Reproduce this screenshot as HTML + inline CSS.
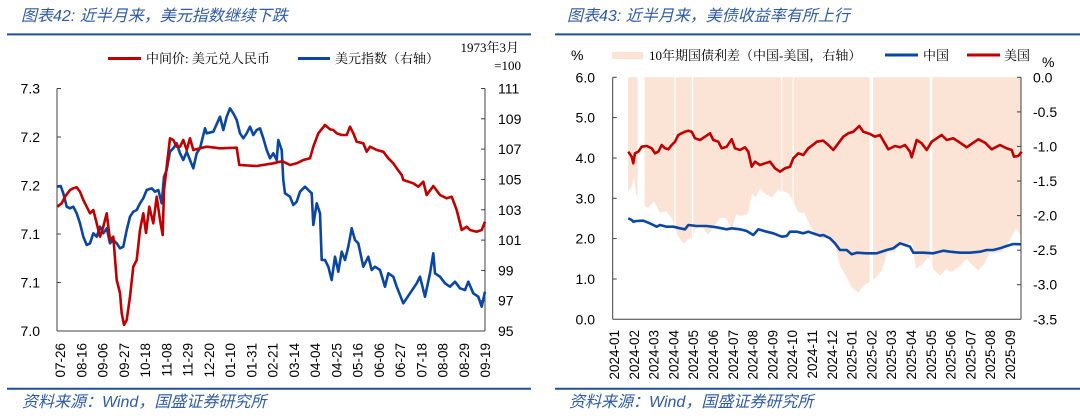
<!DOCTYPE html>
<html><head><meta charset="utf-8">
<style>
html,body{margin:0;padding:0;background:#fff;}
svg{display:block;}
.t{font-family:"Liberation Sans","Noto Sans CJK SC",sans-serif;font-style:italic;font-size:16px;fill:#2F5BA5;}
.ax{font-family:"Liberation Sans",sans-serif;font-size:14px;fill:#000;}
.xl{font-family:"Liberation Sans",sans-serif;font-size:13.5px;fill:#000;}
.lg{font-family:"Liberation Serif","Noto Serif CJK SC",serif;font-size:13px;fill:#000;}
</style></head>
<body>
<svg width="1080" height="419" viewBox="0 0 1080 419" xmlns="http://www.w3.org/2000/svg">
<rect width="1080" height="419" fill="#fff"/>
<!-- titles -->
<text class="t" x="21" y="21">图表42: 近半月来，美元指数继续下跌</text>
<text class="t" x="567" y="21">图表43: 近半月来，美债收益率有所上行</text>
<line x1="7" y1="34.4" x2="531" y2="34.4" stroke="#1F4E9E" stroke-width="2"/>
<line x1="555" y1="34.4" x2="1080" y2="34.4" stroke="#1F4E9E" stroke-width="2"/>
<line x1="7" y1="388.8" x2="531" y2="388.8" stroke="#1F4E9E" stroke-width="2"/>
<line x1="555" y1="388.8" x2="1080" y2="388.8" stroke="#1F4E9E" stroke-width="2"/>
<text class="t" x="22" y="407">资料来源：Wind，国盛证券研究所</text>
<text class="t" x="569" y="407">资料来源：Wind，国盛证券研究所</text>

<!-- LEFT CHART legend -->
<line x1="108" y1="58.5" x2="141" y2="58.5" stroke="#C00000" stroke-width="3"/>
<text class="lg" x="146" y="63">中间价: 美元兑人民币</text>
<line x1="298" y1="58.5" x2="330" y2="58.5" stroke="#0B47A1" stroke-width="3"/>
<text class="lg" x="335" y="63">美元指数（右轴）</text>
<text class="lg" x="519" y="52" text-anchor="end">1973年3月</text>
<text class="lg" x="521" y="70" text-anchor="end">=100</text>

<!-- LEFT axes -->
<g stroke="#404040" stroke-width="1" fill="none">
<line x1="57" y1="88.5" x2="57" y2="331"/>
<line x1="485" y1="88.5" x2="485" y2="331"/>
<line x1="57" y1="331" x2="485" y2="331"/>
<line x1="57" y1="88.5" x2="61" y2="88.5"/>
<line x1="57" y1="137" x2="61" y2="137"/>
<line x1="57" y1="185.5" x2="61" y2="185.5"/>
<line x1="57" y1="234" x2="61" y2="234"/>
<line x1="57" y1="282.5" x2="61" y2="282.5"/>
<line x1="481" y1="88.5" x2="485" y2="88.5"/>
<line x1="481" y1="118.8" x2="485" y2="118.8"/>
<line x1="481" y1="149.1" x2="485" y2="149.1"/>
<line x1="481" y1="179.4" x2="485" y2="179.4"/>
<line x1="481" y1="209.75" x2="485" y2="209.75"/>
<line x1="481" y1="240.1" x2="485" y2="240.1"/>
<line x1="481" y1="270.4" x2="485" y2="270.4"/>
<line x1="481" y1="300.7" x2="485" y2="300.7"/>
</g>
<g class="ax" text-anchor="end">
<text x="40" y="93.5">7.3</text>
<text x="40" y="142">7.2</text>
<text x="40" y="190.5">7.2</text>
<text x="40" y="239">7.1</text>
<text x="40" y="287.5">7.1</text>
<text x="40" y="336">7.0</text>
</g>
<g class="ax">
<text x="498" y="93.5">111</text>
<text x="498" y="123.8">109</text>
<text x="498" y="154.1">107</text>
<text x="498" y="184.4">105</text>
<text x="498" y="214.75">103</text>
<text x="498" y="245.1">101</text>
<text x="498" y="275.4">99</text>
<text x="498" y="305.7">97</text>
<text x="498" y="336">95</text>
</g>
<g class="xl" text-anchor="end">
<text transform="translate(65,343) rotate(-90)">07-26</text>
<text transform="translate(86.25,343) rotate(-90)">08-16</text>
<text transform="translate(107.5,343) rotate(-90)">09-06</text>
<text transform="translate(128.75,343) rotate(-90)">09-27</text>
<text transform="translate(150,343) rotate(-90)">10-18</text>
<text transform="translate(171.25,343) rotate(-90)">11-08</text>
<text transform="translate(192.5,343) rotate(-90)">11-29</text>
<text transform="translate(213.75,343) rotate(-90)">12-20</text>
<text transform="translate(235,343) rotate(-90)">01-10</text>
<text transform="translate(256.25,343) rotate(-90)">01-31</text>
<text transform="translate(277.5,343) rotate(-90)">02-21</text>
<text transform="translate(298.75,343) rotate(-90)">03-14</text>
<text transform="translate(320,343) rotate(-90)">04-04</text>
<text transform="translate(341.25,343) rotate(-90)">04-25</text>
<text transform="translate(362.5,343) rotate(-90)">05-16</text>
<text transform="translate(383.75,343) rotate(-90)">06-06</text>
<text transform="translate(405,343) rotate(-90)">06-27</text>
<text transform="translate(426.25,343) rotate(-90)">07-18</text>
<text transform="translate(447.5,343) rotate(-90)">08-08</text>
<text transform="translate(468.75,343) rotate(-90)">08-29</text>
<text transform="translate(490,343) rotate(-90)">09-19</text>
</g>

<!-- LEFT series: USD index (blue) -->
<polyline fill="none" stroke="#0B47A1" stroke-width="2.6" stroke-linejoin="round" points="
57.3,186.7 60.7,186 63.3,193.3 66.7,206.7 70,208.3 73.3,206.7 76.7,213.3 80,223.3 83.3,236.7 86.7,245 90,243.3 93.3,233.3 96.7,236.7 100,226.7 103.3,233.3 106.7,228.3 110,243.3 113.3,240 116.7,243.3 120,248.3 123.3,246.7 126.7,230 130,216.7 133.3,211.7 136.7,210 140,203.3 143.3,198.3 146.7,190 151.7,188.3 155,191.7 158.3,190 161.7,203.3 164,176.7 166.7,170 170,151.7 173.3,148.3 176.7,143.3 180,153.3 183.3,160 186.7,151.7 190,160 193.3,168.3 196.7,153.3 200,148.3 205,128.3 206.7,133.3 213.3,131.7 220,116.7 223.3,130 226.7,116.7 230,108.3 233.3,113.3 236.7,120 240,133.3 243.3,138.3 246.7,133.3 250,126.7 253.3,135 256.7,130 260,128.3 263.3,138.3 266.7,150 270,158.3 273.3,153.3 276.7,160 278.3,140 281.7,150 283.3,180 285,193.3 290,196.7 293.3,205 296.7,201.7 300,191.7 305,186.7 308.3,190 311.7,193.3 313.3,225 316.7,203.3 320,213.3 321.7,260 325,260 328.3,266.7 331.7,280 335,256.7 338.3,271.7 341.7,251.7 345,260 348.3,246.7 351.7,228.3 355,240 358.3,243.3 363.3,266.7 368.3,256.7 371.7,270 375,266.7 380,270 385,286.7 388.3,273.3 393.3,276.7 396.7,286.7 403.3,303.3 410,293.3 416.7,283.3 420,276.7 425,296.7 430,273.3 433.3,253.3 435,273.3 440,276.7 445,283.3 450,286.7 455,281.7 460,288.3 465,290 468.3,281.7 473.3,293.3 478.3,296.7 481.7,306.7 485,291.7"/>
<!-- LEFT series: USDCNY (red) -->
<polyline fill="none" stroke="#C00000" stroke-width="2.6" stroke-linejoin="round" points="
57.3,206.7 61.7,203.3 65,196.7 70,190 73.3,188.3 76.7,187.3 80,191.7 83.3,200 86.7,206.7 90,213.3 93.3,210 96.7,223.3 100,236.7 103.3,226.7 106.7,213.3 110,240 113.3,236.7 116.7,280 120,293 121.7,313.3 124,325 126.7,320 130,296.7 133.3,266.7 136.7,260 140,230 143.3,213.3 146,233 149.3,206.7 153.3,223.3 156.7,196.7 160,220 162.7,235 164,190 166.7,166.7 170,138.3 173.3,140 176.7,146.7 180,146.7 183.3,140 186.7,150 190,138.3 193.3,150 200,148.3 206.7,146.7 220,148.3 236.7,147.7 239.3,165 256.7,166 273.3,163.3 280,161.7 283.3,161.7 290,165 296.7,163.3 303.3,160 310,158.3 313.3,146.7 318.3,133.3 325,125 330,129.3 333.3,130 336.7,133.3 341.7,135 346.7,135 350,126.7 353.3,133.3 356.7,141.7 363.3,143.3 366.7,151.7 370,146.7 376.7,150 383.3,151.7 388.3,158.3 393.3,163.3 396.7,168.3 401.7,175 403.3,180 413.3,183.3 418.3,186.7 423.3,181.7 426.7,195 433.3,186 440,195 446.7,198.3 451.7,196.7 456.7,210 461.7,230 466.7,226.7 470,230 476.7,231.7 481.7,230 485,221.7"/>

<!-- RIGHT CHART legend -->
<text class="ax" x="571" y="60">%</text>
<rect x="612" y="52" width="31" height="7" fill="#FBE3D6"/>
<text class="lg" x="649" y="60">10年期国债利差（中国-美国，右轴）</text>
<line x1="885" y1="55" x2="918" y2="55" stroke="#0B47A1" stroke-width="3"/>
<text class="lg" x="923" y="60">中国</text>
<line x1="967" y1="55" x2="1000" y2="55" stroke="#C00000" stroke-width="3"/>
<text class="lg" x="1004" y="60">美国</text>
<text class="ax" x="1042" y="67">%</text>

<!-- RIGHT spread area -->
<polygon fill="#FBE3D6" points="628,77.3 1021,77.3 1021,236 1016,227.7 1012,236 1008,242.8 1002,251.5 996,253.1 990,252.2 984,264.2 978,270.2 972,264.6 966,258.6 960,266 952,272 946,269.4 940,275.4 934,270.2 928,257.4 922,264.6 916,268.9 912,240.2 906,247.6 900,242 894,253 888,250.5 882,270.2 876,277.6 870,281.9 864,285.3 858,292.5 852,287.6 846,276.2 840,266 834,240.2 828,237.7 822,239 816,235 810,225.3 804,212.8 798,212 792,198.5 788,193 782,190.5 778,189.6 772,197.4 766,194.3 760,188.8 756,197.4 752,194 748,213.6 742,216 736,214.5 732,229.6 726,218.3 720,218 714,226.2 708,234.7 702,226.5 696,228.2 692,238 688,239 684,243.7 678,236 672,218.3 666,211 660,212.8 654,201.3 648,208 642,204.2 636,194 634,177.5 632,186 628,191.5"/>
<g fill="#fff">
<rect x="637.5" y="76" width="7" height="230"/>
<rect x="674.3" y="76" width="1.4" height="230"/>
<rect x="691.8" y="76" width="1.4" height="230"/>
<rect x="781" y="76" width="1.2" height="230"/>
<rect x="792.6" y="76" width="1.4" height="230"/>
<rect x="869.5" y="76" width="3.5" height="230"/>
<rect x="929.8" y="76" width="2.5" height="230"/>
</g>

<!-- RIGHT axes -->
<g stroke="#404040" stroke-width="1" fill="none">
<line x1="612.7" y1="77.3" x2="612.7" y2="319.3"/>
<line x1="1021" y1="77.3" x2="1021" y2="319.3"/>
<line x1="612.7" y1="319.3" x2="1021" y2="319.3"/>
<line x1="612.7" y1="77.3" x2="616.7" y2="77.3"/>
<line x1="612.7" y1="117.6" x2="616.7" y2="117.6"/>
<line x1="612.7" y1="158" x2="616.7" y2="158"/>
<line x1="612.7" y1="198.3" x2="616.7" y2="198.3"/>
<line x1="612.7" y1="238.6" x2="616.7" y2="238.6"/>
<line x1="612.7" y1="279" x2="616.7" y2="279"/>
<line x1="1017" y1="77.3" x2="1021" y2="77.3"/>
<line x1="1017" y1="111.9" x2="1021" y2="111.9"/>
<line x1="1017" y1="146.4" x2="1021" y2="146.4"/>
<line x1="1017" y1="181" x2="1021" y2="181"/>
<line x1="1017" y1="215.6" x2="1021" y2="215.6"/>
<line x1="1017" y1="250.2" x2="1021" y2="250.2"/>
<line x1="1017" y1="284.7" x2="1021" y2="284.7"/>
</g>
<g class="ax" text-anchor="end">
<text x="595" y="82.3">6.0</text>
<text x="595" y="122.6">5.0</text>
<text x="595" y="163">4.0</text>
<text x="595" y="203.3">3.0</text>
<text x="595" y="243.6">2.0</text>
<text x="595" y="284">1.0</text>
<text x="595" y="324.3">0.0</text>
</g>
<g class="ax">
<text x="1033" y="82.3">0.0</text>
<text x="1033" y="116.9">-0.5</text>
<text x="1033" y="151.4">-1.0</text>
<text x="1033" y="186">-1.5</text>
<text x="1033" y="220.6">-2.0</text>
<text x="1033" y="255.2">-2.5</text>
<text x="1033" y="289.7">-3.0</text>
<text x="1033" y="324.3">-3.5</text>
</g>
<g class="xl" text-anchor="end">
<text transform="translate(619,330) rotate(-90)">2024-01</text>
<text transform="translate(638.8,330) rotate(-90)">2024-02</text>
<text transform="translate(658.6,330) rotate(-90)">2024-03</text>
<text transform="translate(678.4,330) rotate(-90)">2024-04</text>
<text transform="translate(698.2,330) rotate(-90)">2024-05</text>
<text transform="translate(718,330) rotate(-90)">2024-06</text>
<text transform="translate(737.8,330) rotate(-90)">2024-07</text>
<text transform="translate(757.6,330) rotate(-90)">2024-08</text>
<text transform="translate(777.4,330) rotate(-90)">2024-09</text>
<text transform="translate(797.2,330) rotate(-90)">2024-10</text>
<text transform="translate(817,330) rotate(-90)">2024-11</text>
<text transform="translate(836.8,330) rotate(-90)">2024-12</text>
<text transform="translate(856.6,330) rotate(-90)">2025-01</text>
<text transform="translate(876.4,330) rotate(-90)">2025-02</text>
<text transform="translate(896.2,330) rotate(-90)">2025-03</text>
<text transform="translate(916,330) rotate(-90)">2025-04</text>
<text transform="translate(935.8,330) rotate(-90)">2025-05</text>
<text transform="translate(955.6,330) rotate(-90)">2025-06</text>
<text transform="translate(975.4,330) rotate(-90)">2025-07</text>
<text transform="translate(995.2,330) rotate(-90)">2025-08</text>
<text transform="translate(1015,330) rotate(-90)">2025-09</text>
</g>

<!-- RIGHT series: China (blue) -->
<polyline fill="none" stroke="#0B47A1" stroke-width="2.6" stroke-linejoin="round" points="
628.3,218.3 631.7,220 633.3,221.7 636.7,221 643.3,220.7 648.3,222.7 653.3,225 656.7,226.7 660,225 666.7,226.7 673.3,226.7 680,228.3 685,229.3 688.3,225 696.7,226 706.7,226 716.7,227.3 726.7,229.3 731.7,228.3 740,229.3 746.7,231 753.3,235 758.3,229.3 766.7,231.7 773.3,233.3 781.7,236.7 786.7,236 790,231.7 796.7,231.7 803.3,233.3 808.3,231.7 815,234 820,235.7 823.3,235 830,238.3 835,243.3 840,250 846.7,250 851.7,254.3 856.7,252.7 866.7,253.3 876.7,253.3 886.7,250 893.3,248.3 900,243.3 905,245 910,246.7 913.3,252.7 923.3,252.7 933.3,253.3 943.3,250.7 950,251.7 960,252.7 970,252.7 980,251.7 986.7,250 993.3,250 1000,248.3 1006.7,246 1013.3,244 1020.7,244.3"/>
<!-- RIGHT series: US (red) -->
<polyline fill="none" stroke="#C00000" stroke-width="2.6" stroke-linejoin="round" points="
628.3,151.7 631.7,156.7 633.3,163.3 635,153.3 638.3,151.7 641.7,146.7 646.7,146 651.7,148.3 655,153.3 658.3,151.7 661.7,145 665,148.3 668.3,149.3 671.7,145 675,141.7 678.3,135 681.7,133.3 685,131.7 688.3,130.7 691.7,131.7 695,138.3 700,140 705,136.7 710,133.3 713.3,140 718.3,141.7 721.7,148.3 726.7,146.7 731.7,139.3 735,148.3 740,150 745,147.3 748.3,151.7 751.7,166.7 755,161.7 760,165 765,163.3 770,161.7 775,168.3 780,171.7 785,168.3 790,166.7 793.3,158.3 798.3,153.3 803.3,155 808.3,148.3 815,143.3 816.7,141.7 823.3,140.7 828.3,145 833.3,150 838.3,143.3 843.3,136.7 848.3,133.3 853.3,131.7 859.3,126 863.3,131.7 870,134 875,136.7 880,135 883.3,140.7 888.3,149.3 895,146 900,147.3 905,145 910,151.7 911.7,157.3 916.7,140 921.7,143.3 926.7,150 931.7,141.7 936.7,138.3 941.7,135 946.7,140 953.3,138.3 960,142.7 966.7,147.3 973.3,142.7 978.3,139.3 985,142.7 991.7,149.3 1000,145 1006.7,148.3 1011.7,150 1014,156.7 1018.3,156 1021.7,151.7"/>
</svg>
</body></html>
